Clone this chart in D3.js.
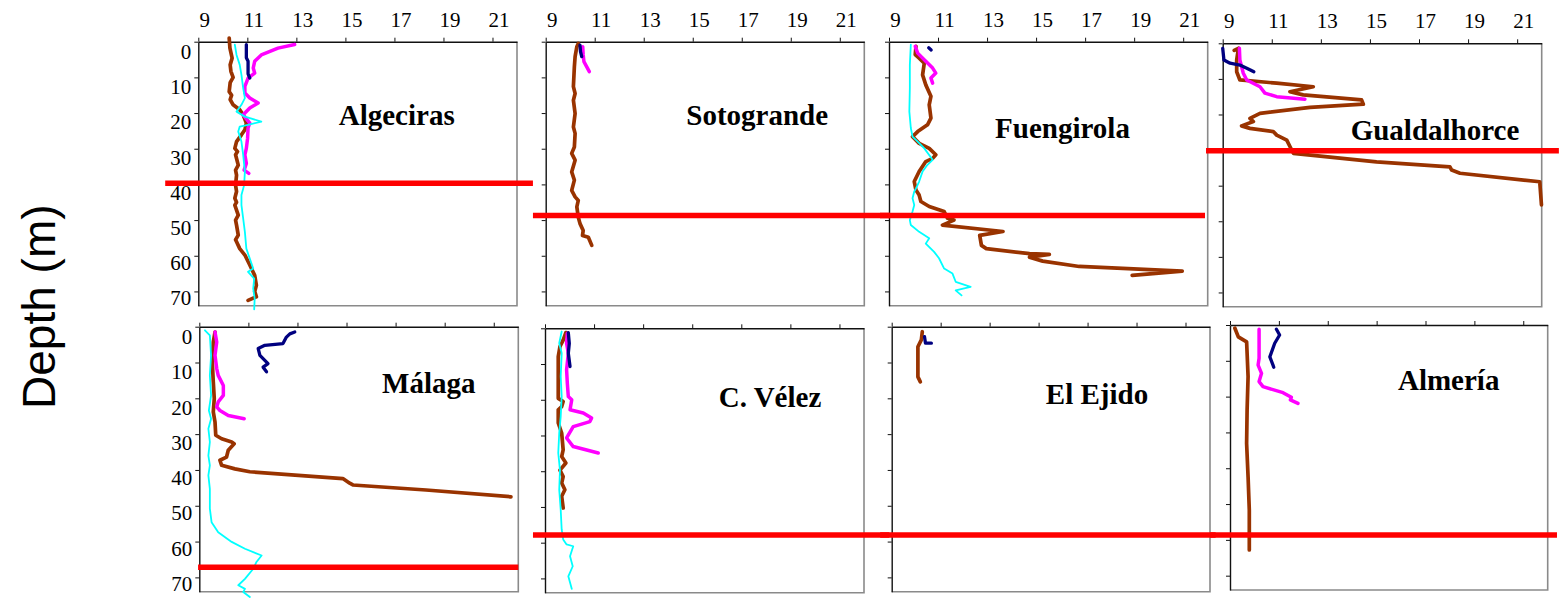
<!DOCTYPE html>
<html>
<head>
<meta charset="utf-8">
<script src="https://cdn.jsdelivr.net/npm/d3@7"></script>
<style>
  html, body { margin: 0; padding: 0; background: #fff; }
  svg { display: block; }
</style>
</head>
<body>
<svg id="chart" width="1559" height="598"></svg>
<script>
// ---- Axes ----
const tempTicks = [9, 11, 13, 15, 17, 19, 21];
const depthTicks = [0, 10, 20, 30, 40, 50, 60, 70];
const tempDomain = [9, 22];
const depthDomain = [0, 74];

const stations = ["Algeciras", "Sotogrande", "Fuengirola", "Gualdalhorce",
                  "Málaga", "C. Vélez", "El Ejido", "Almería"];

// ---- Temperature profiles: [temperature (°C), depth (m)] ----
// Algeciras
const algecirasBrown = [[10.26,-1],[10.29,1.8],[10.38,4.6],[10.30,6.5],[10.33,8.3],[10.42,10.0],[10.30,11.5],[10.26,14.0],[10.36,15.0],[10.30,16.2],[10.42,17.7],[10.69,19.1],[10.83,20.5],[10.96,22.8],[10.90,24.7],[10.76,26.1],[10.56,28.0],[10.49,29.9],[10.60,30.8],[10.52,31.7],[10.63,34.6],[10.52,36.0],[10.56,37.4],[10.52,40.2],[10.56,42.0],[10.49,43.9],[10.56,45.0],[10.49,45.8],[10.63,48.6],[10.52,50.0],[10.56,51.4],[10.63,54.2],[10.52,55.5],[10.56,56.1],[10.69,58.0],[10.90,59.8],[11.10,62.6],[11.30,65.5],[11.37,68.3],[11.30,70.0],[11.37,71.5],[11.03,72.5]];
const algecirasCyan = [[10.49,0.8],[10.56,3.7],[10.69,6.5],[10.76,9.3],[10.83,13.0],[10.90,15.8],[10.76,17.7],[10.56,19.6],[10.90,21.0],[11.57,22.4],[11.03,23.3],[10.69,23.8],[10.63,25.2],[10.76,28.0],[10.83,31.7],[10.90,36.4],[10.87,40.2],[10.76,43.0],[10.76,45.8],[10.83,49.5],[10.90,53.3],[10.96,58.0],[11.10,60.8],[11.24,63.6],[11.03,64.5],[11.28,66.4],[11.24,69.2],[11.30,72.0],[11.28,75.0]];
const algecirasMagenta = [[12.93,0.8],[12.25,1.8],[11.57,3.7],[11.30,5.5],[11.24,7.4],[11.30,8.8],[11.03,10.2],[10.90,12.5],[10.90,14.4],[11.10,15.8],[11.44,17.2],[11.10,18.6],[10.83,20.5],[11.10,22.8],[11.03,24.2],[11.01,27.1],[10.96,29.9],[10.90,31.7],[10.96,34.1],[10.87,36.0],[11.06,36.9]];
const algecirasNavy = [[10.96,0.8],[10.96,4.5],[11.03,5.5],[11.03,9.0],[11.10,10.2]];

// Sotogrande
const sotograndeBrown = [[10.33,0.5],[10.27,1.4],[10.20,4.2],[10.17,7.0],[10.13,12.6],[10.20,14.5],[10.13,16.4],[10.20,20.1],[10.13,23.9],[10.20,25.7],[10.17,29.5],[10.06,31.3],[10.20,33.2],[10.06,36.5],[10.17,38.8],[10.06,41.7],[10.20,43.5],[10.33,44.5],[10.27,46.3],[10.33,49.2],[10.40,51.0],[10.53,52.9],[10.50,54.3],[10.74,54.8],[10.88,57.1]];
const sotograndeCyan = [];
const sotograndeMagenta = [[10.51,1.4],[10.53,3.7],[10.56,5.6],[10.67,7.0],[10.78,8.4]];
const sotograndeNavy = [[10.40,1.0],[10.42,2.8],[10.47,4.2]];

// Fuengirola
const fuengirolaBrown = [[10.10,1.3],[10.07,3.6],[10.23,4.6],[10.44,6.0],[10.37,9.3],[10.50,12.1],[10.71,15.3],[10.64,17.7],[10.71,21.4],[10.57,23.3],[10.17,25.2],[9.96,26.6],[10.23,28.5],[10.64,29.9],[10.91,31.7],[10.78,32.7],[10.50,33.6],[10.23,36.4],[10.03,39.2],[10.10,41.6],[10.23,43.0],[10.30,44.8],[10.64,46.2],[11.25,47.6],[11.39,49.5],[11.65,50.0],[11.18,51.4],[13.65,53.2],[12.70,54.3],[12.77,57.1],[12.97,58.0],[14.73,59.4],[15.54,59.6],[14.73,60.4],[15.27,61.5],[16.76,63.0],[20.96,64.3],[18.92,65.5]];
const fuengirolaCyan = [[9.89,0.8],[9.85,6.5],[9.85,13.0],[9.83,19.6],[9.89,24.2],[9.96,26.6],[10.17,28.0],[10.44,29.9],[10.78,33.1],[10.57,34.5],[10.37,36.4],[10.23,39.2],[10.10,41.1],[10.03,42.0],[9.96,43.9],[10.03,45.8],[9.96,47.6],[9.85,50.0],[9.89,51.4],[10.23,53.3],[10.64,55.1],[10.50,56.6],[10.84,58.9],[11.04,60.7],[11.25,63.6],[11.59,65.0],[11.72,67.3],[12.33,68.7],[11.72,69.7],[11.96,71.1]];
const fuengirolaMagenta = [[10.07,1.3],[10.17,3.2],[10.50,5.5],[10.78,7.4],[10.91,8.8],[10.71,10.2],[10.78,11.6]];
const fuengirolaNavy = [[10.62,1.7],[10.72,2.3]];

// Gualdalhorce
const gualdalhorceBrown = [[9.47,2.0],[9.64,1.4],[9.57,4.7],[9.57,8.0],[9.70,10.3],[11.20,11.2],[12.69,12.2],[11.74,13.6],[12.28,14.5],[14.66,15.9],[14.73,17.1],[12.56,18.0],[10.52,19.7],[10.11,21.1],[10.25,22.0],[9.77,23.2],[10.11,23.9],[11.06,24.8],[11.20,25.8],[11.61,27.2],[11.74,29.0],[11.88,30.9],[15.27,33.3],[18.26,34.7],[18.33,35.6],[18.67,36.5],[21.92,38.9],[21.99,45.4]];
const gualdalhorceCyan = [];
const gualdalhorceMagenta = [[9.68,1.4],[9.70,4.7],[9.84,8.4],[9.98,10.3],[10.52,12.2],[10.72,14.0],[11.20,15.0],[12.35,15.7]];
const gualdalhorceNavy = [[9.00,1.4],[9.05,4.7],[9.30,5.6],[9.70,6.1],[9.98,7.0],[10.27,8.0]];

// Málaga
const malagaBrown = [[9.64,1.5],[9.57,4.3],[9.53,9.9],[9.57,15.4],[9.61,20.1],[9.57,23.8],[9.64,26.6],[9.67,30.3],[9.91,31.3],[10.32,32.2],[10.42,32.7],[10.18,34.5],[10.11,36.4],[9.84,37.3],[9.91,38.7],[10.45,39.7],[11.06,40.5],[14.85,42.4],[15.13,43.7],[15.26,44.2],[18.24,45.6],[21.70,47.5]];
const malagaCyan = [[9.23,1.0],[9.43,2.4],[9.48,8.0],[9.43,13.6],[9.48,19.2],[9.39,23.4],[9.48,25.7],[9.37,28.5],[9.43,32.2],[9.37,36.0],[9.43,38.7],[9.37,41.5],[9.43,45.3],[9.43,50.8],[9.50,54.6],[9.77,57.4],[10.32,60.1],[10.86,62.0],[11.54,63.9],[11.33,65.7],[11.20,67.6],[10.86,70.4],[10.59,72.2],[10.86,73.2],[10.79,74.1],[11.06,75.5]];
const malagaMagenta = [[9.64,1.5],[9.71,4.3],[9.64,8.0],[9.71,11.7],[9.77,13.6],[9.98,16.4],[9.98,19.2],[9.77,21.0],[9.71,22.4],[9.84,23.4],[10.18,24.8],[10.83,25.7]];
const malagaNavy = [[12.89,1.5],[12.69,2.0],[12.55,2.9],[12.41,4.7],[11.67,5.2],[11.40,6.1],[11.47,8.0],[11.80,10.3],[11.60,11.3],[11.74,12.6]];

// C. Vélez
const velezBrown = [[9.85,1.2],[9.74,3.3],[9.61,5.1],[9.54,7.9],[9.54,13.5],[9.54,19.6],[9.74,20.5],[9.68,21.9],[9.54,22.8],[9.54,26.5],[9.68,29.3],[9.74,34.0],[9.68,35.9],[9.85,37.7],[9.61,39.7],[9.74,41.5],[9.68,43.3],[9.81,45.2],[9.68,47.0],[9.74,50.3]];
const velezCyan = [[9.68,0.9],[9.58,4.2],[9.68,7.0],[9.64,13.5],[9.68,19.1],[9.64,24.7],[9.58,29.3],[9.54,34.9],[9.61,39.7],[9.58,45.2],[9.64,50.8],[9.68,56.3],[9.74,59.1],[9.88,60.5],[10.15,61.0],[10.02,63.8],[10.13,66.6],[9.95,69.4],[10.09,72.9]];
const velezMagenta = [[9.91,1.4],[9.88,4.2],[9.95,7.0],[9.88,11.6],[9.91,15.4],[9.95,19.1],[10.09,20.0],[10.02,22.8],[10.56,23.7],[10.90,25.1],[10.83,26.1],[10.15,27.5],[9.88,30.7],[10.15,33.1],[11.17,34.9]];
const velezNavy = [[9.95,1.2],[9.99,4.2],[9.95,7.0],[10.02,10.7]];

// El Ejido
const ejidoBrown = [[10.25,1.4],[10.21,3.7],[10.07,5.6],[10.07,9.3],[10.07,14.0],[10.17,15.4]];
const ejidoCyan = [];
const ejidoMagenta = [];
const ejidoNavy = [[10.34,2.8],[10.38,4.6],[10.62,4.6]];

// Almería
const almeriaBrown = [[9.20,0.9],[9.34,3.3],[9.68,4.7],[9.70,7.9],[9.74,14.4],[9.70,23.7],[9.68,33.1],[9.74,42.4],[9.79,51.7],[9.79,62.8]];
const almeriaCyan = [];
const almeriaMagenta = [[10.19,1.2],[10.19,9.3],[10.15,11.2],[10.29,13.5],[10.19,15.8],[10.35,17.2],[11.17,18.9],[11.51,20.2],[11.47,20.9],[11.78,21.9]];
const almeriaNavy = [[10.90,1.2],[11.03,2.8],[10.83,5.1],[10.63,8.9],[10.76,11.2],[10.79,11.8]];

// ---- Mixed-layer depth (red line) and its horizontal span in °C units ----
const mixedLayerDepth = [39.7, 48.7, 48.7, 30.2, 67.2, 57.85, 58.17, 58.64];
const mixedLayerFrom  = [7.65, 8.48, 8.63, 8.32, 8.95, 8.51, 8.53, 8.19];
const mixedLayerTo    = [22.65, 23.05, 21.89, 22.70, 22.0, 23.03, 22.23, 22.38];

// ---- Series assembled per station (drawing order: brown, magenta, navy, cyan) ----
const brownSeries   = [algecirasBrown, sotograndeBrown, fuengirolaBrown, gualdalhorceBrown, malagaBrown, velezBrown, ejidoBrown, almeriaBrown];
const magentaSeries = [algecirasMagenta, sotograndeMagenta, fuengirolaMagenta, gualdalhorceMagenta, malagaMagenta, velezMagenta, ejidoMagenta, almeriaMagenta];
const navySeries    = [algecirasNavy, sotograndeNavy, fuengirolaNavy, gualdalhorceNavy, malagaNavy, velezNavy, ejidoNavy, almeriaNavy];
const cyanSeries    = [algecirasCyan, sotograndeCyan, fuengirolaCyan, gualdalhorceCyan, malagaCyan, velezCyan, ejidoCyan, almeriaCyan];

const seriesStyles = [
  { data: brownSeries,   color: "#993300", width: 3.7 },
  { data: magentaSeries, color: "#FF00FF", width: 3.5 },
  { data: navySeries,    color: "#000080", width: 3.3 },
  { data: cyanSeries,    color: "#00FFFF", width: 1.8 }
];

// ---- Panel layout (pixel frame of each plot area, title anchor) ----
const panels = [
  { l: 198.3,  r: 517,    t: 41.7,  b: 305.7, topLabels: true,  leftLabels: true,  tx: 396.7,  ty: 125 },
  { l: 545.7,  r: 864.3,  t: 41.7,  b: 305.7, topLabels: true,  leftLabels: false, tx: 757.2,  ty: 125 },
  { l: 889,    r: 1207.7, t: 41.7,  b: 305.7, topLabels: true,  leftLabels: false, tx: 1062.5, ty: 138.3 },
  { l: 1222.7, r: 1541.7, t: 43.3,  b: 306.7, topLabels: true,  leftLabels: false, tx: 1435,   ty: 140 },
  { l: 199.3,  r: 518.3,  t: 326.7, b: 591.7, topLabels: false, leftLabels: true,  tx: 428.8,  ty: 392.7 },
  { l: 545,    r: 864,    t: 328.3, b: 592.7, topLabels: false, leftLabels: false, tx: 770,    ty: 406.7 },
  { l: 891.7,  r: 1210,   t: 326.7, b: 591.7, topLabels: false, leftLabels: false, tx: 1097,   ty: 404 },
  { l: 1230,   r: 1547.7, t: 325,   b: 590,   topLabels: false, leftLabels: false, tx: 1448.7, ty: 390 }
];

const svg = d3.select("#chart");
const serif = "'Liberation Serif', 'Times New Roman', serif";

const panelGroups = [];

panels.forEach((p, i) => {
  const x = d3.scaleLinear().domain(tempDomain).range([p.l, p.r]);
  const y = d3.scaleLinear().domain(depthDomain).range([p.t, p.b]);
  const g = svg.append("g").attr("class", "panel");
  panelGroups.push({ g, x, y });

  // grey plot-area frame on the right and bottom
  g.append("path")
    .attr("d", `M${p.l},${p.b}H${p.r}V${p.t}`)
    .attr("fill", "none")
    .attr("stroke", "#8a8a8a")
    .attr("stroke-width", 1.6);

  // temperature axis along the top
  const xAxis = d3.axisTop(x)
    .tickValues(tempTicks)
    .tickSize(4)
    .tickSizeOuter(0)
    .tickPadding(11)
    .tickFormat(p.topLabels ? d3.format("d") : () => "");
  const gx = g.append("g").attr("transform", `translate(0,${p.t})`).call(xAxis);
  gx.select(".domain").attr("stroke", "#111").attr("stroke-width", 1.4);
  gx.selectAll(".tick line").attr("stroke", "#111").attr("stroke-width", 1);
  gx.selectAll(".tick text")
    .attr("font-family", serif)
    .attr("font-size", 21)
    .attr("fill", "#000")
    .attr("dx", 6);

  // depth axis along the left
  const yAxis = d3.axisLeft(y)
    .tickValues(depthTicks)
    .tickSize(4)
    .tickSizeOuter(0)
    .tickPadding(3)
    .tickFormat(p.leftLabels ? d3.format("d") : () => "");
  const gy = g.append("g").attr("transform", `translate(${p.l},0)`).call(yAxis);
  gy.select(".domain").attr("stroke", "#111").attr("stroke-width", 1.4);
  gy.selectAll(".tick line").attr("stroke", "#111").attr("stroke-width", 1);
  gy.selectAll(".tick text")
    .attr("font-family", serif)
    .attr("font-size", 21)
    .attr("fill", "#000")
    .attr("transform", d => `translate(0,${10.2 - 0.054 * d})`);

  // temperature profiles
  const line = d3.line().x(d => x(d[0])).y(d => y(d[1]));
  seriesStyles.forEach(s => {
    const pts = s.data[i];
    if (!pts || !pts.length) return;
    g.append("path")
      .datum(pts)
      .attr("d", line)
      .attr("fill", "none")
      .attr("stroke", s.color)
      .attr("stroke-width", s.width)
      .attr("stroke-linejoin", "round")
      .attr("stroke-linecap", "round");
  });

  // station name
  g.append("text")
    .attr("x", p.tx)
    .attr("y", p.ty)
    .attr("text-anchor", "middle")
    .attr("font-family", serif)
    .attr("font-weight", "bold")
    .attr("font-size", 29)
    .attr("fill", "#000")
    .text(stations[i]);
});

// mixed-layer depth markers, drawn above all panels
panelGroups.forEach(({ x, y }, i) => {
  svg.append("line")
    .attr("x1", x(mixedLayerFrom[i]))
    .attr("x2", x(mixedLayerTo[i]))
    .attr("y1", y(mixedLayerDepth[i]))
    .attr("y2", y(mixedLayerDepth[i]))
    .attr("stroke", "#FF0000")
    .attr("stroke-width", 5.5);
});

// shared depth label
svg.append("text")
  .attr("transform", "translate(55,306.7) rotate(-90)")
  .attr("text-anchor", "middle")
  .attr("font-family", "'Liberation Sans', Arial, sans-serif")
  .attr("font-size", 46)
  .attr("fill", "#000")
  .text("Depth (m)");
</script>
</body>
</html>
